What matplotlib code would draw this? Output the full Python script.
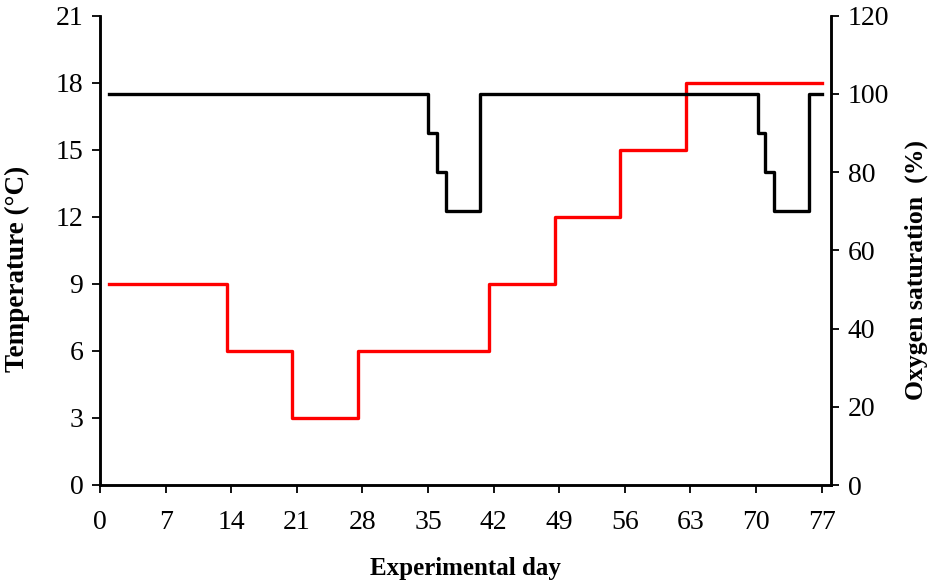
import matplotlib
matplotlib.use('Agg')
import matplotlib.pyplot as plt

# temperature schedule (left axis), steps-post
temp_days = [1, 13.5, 20.5, 27.5, 41.5, 48.5, 55.5, 62.5, 77]
temp_vals = [9, 6, 3, 6, 9, 12, 15, 18, 18]

# oxygen saturation schedule (right axis), steps-post
o2_days = [1, 35, 36, 36.9, 40.5, 70.2, 71, 71.9, 75.6, 77]
o2_vals = [100, 90, 80, 70, 100, 90, 80, 70, 100, 100]

x_ticks = [0, 7, 14, 21, 28, 35, 42, 49, 56, 63, 70, 77]
temp_ticks = [0, 3, 6, 9, 12, 15, 18, 21]
o2_ticks = [0, 20, 40, 60, 80, 100, 120]

plt.rcParams['font.family'] = ['Liberation Serif', 'DejaVu Serif']

fig = plt.figure(figsize=(9.34, 5.82), dpi=100)
W, H = 934, 582
ax = fig.add_axes([100 / W, 1 - 485 / H, 731 / W, (485 - 15.5) / H])
ax2 = ax.twinx()

ax.plot(temp_days, temp_vals, drawstyle='steps-post', color='#ff0000', lw=2.4)
ax2.plot(o2_days, o2_vals, drawstyle='steps-post', color='black', lw=2.4)

ax.set_xlim(0, 78)
ax.set_ylim(0, 21)
ax2.set_ylim(0, 120)
ax.set_xticks(x_ticks)
ax.set_yticks(temp_ticks)
ax2.set_yticks(o2_ticks)

for a in (ax, ax2):
    a.spines['top'].set_visible(False)
    for s in a.spines.values():
        s.set_linewidth(1.8)
    a.tick_params(width=1.3, length=6, labelsize=20, direction='out', pad=6)
ax.tick_params(axis='x', pad=12)

ax.set_xlabel('Experimental day', fontsize=18, fontweight='bold', labelpad=16)
ax.set_ylabel('Temperature (°C)', fontsize=19.5, fontweight='bold')
ax2.set_ylabel('Oxygen saturation  (%)', fontsize=18.5, fontweight='bold')
ax.yaxis.set_label_coords(-0.096, 0.46)
ax2.yaxis.set_label_coords(1.101, 0.458)

fig.savefig('out.png', dpi=100)
